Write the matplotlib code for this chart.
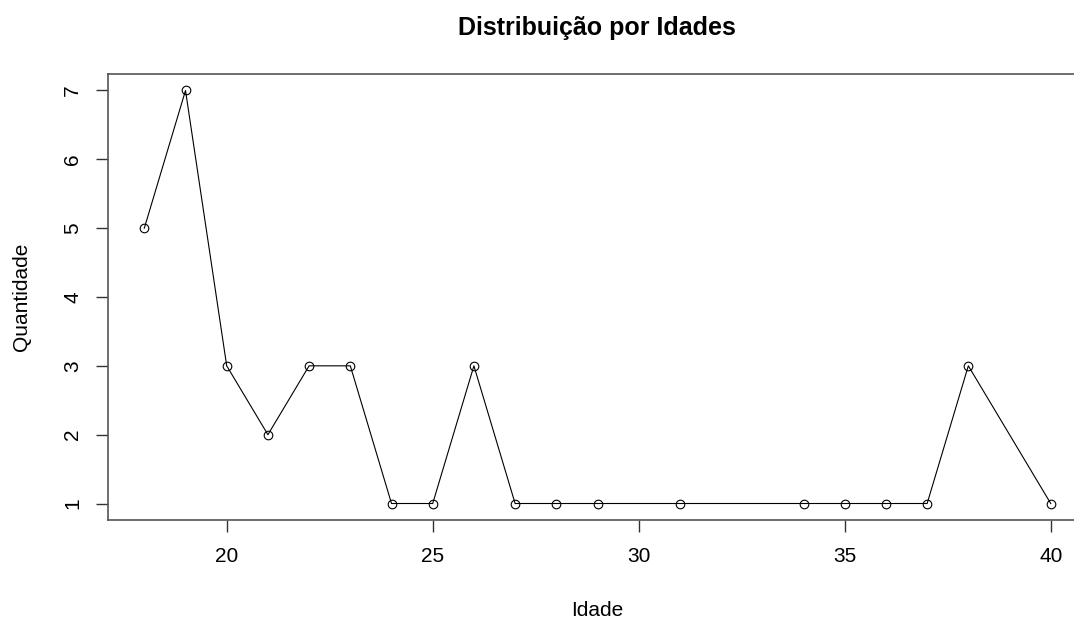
import matplotlib.pyplot as plt

# idade e quantidade de pessoas em cada idade
idade = [18, 19, 20, 21, 22, 23, 24, 25, 26, 27, 28, 29, 31, 34, 35, 36, 37, 38, 40]
quantidade = [5, 7, 3, 2, 3, 3, 1, 1, 3, 1, 1, 1, 1, 1, 1, 1, 1, 3, 1]

plt.rcParams['font.family'] = ['Liberation Sans', 'DejaVu Sans']

fig = plt.figure(figsize=(10.74, 6.19), dpi=100)
# a area do grafico passa da borda direita da figura
ax = fig.add_axes([0.1006, 0.1599, 0.9115, 0.7206])

ax.plot(idade, quantidade, color='black', linewidth=0.8,
        marker='o', markersize=6.2, markerfacecolor='none',
        markeredgecolor='black', markeredgewidth=0.8)

# limites no estilo do R (4% de folga)
dx = (max(idade) - min(idade)) * 0.04
dy = (max(quantidade) - min(quantidade)) * 0.04
ax.set_xlim(min(idade) - dx, max(idade) + dx)
ax.set_ylim(min(quantidade) - dy, max(quantidade) + dy)

ax.set_xticks([20, 25, 30, 35, 40])
ax.set_yticks(range(1, 8))
ax.tick_params(axis='both', length=8.6, width=1, color='#333333',
               labelsize=15)
ax.tick_params(axis='x', pad=11)
ax.tick_params(axis='y', pad=10)
for lab in ax.get_yticklabels():
    lab.set_rotation(90)
    lab.set_va('center')

for s in ax.spines.values():
    s.set_color('#555555')
    s.set_linewidth(1.2)

fig.text(597 / 1074, 1 - 616 / 619, 'Idade', fontsize=15,
         ha='center', va='baseline')
fig.text(22 / 1074, 1 - 297 / 619, 'Quantidade', fontsize=15,
         ha='center', va='center', rotation=90)
fig.text(597 / 1074, 1 - 35 / 619, 'Distribuição por Idades', fontsize=18,
         fontweight='bold', ha='center', va='baseline')

fig.savefig('out.png', dpi=100)
